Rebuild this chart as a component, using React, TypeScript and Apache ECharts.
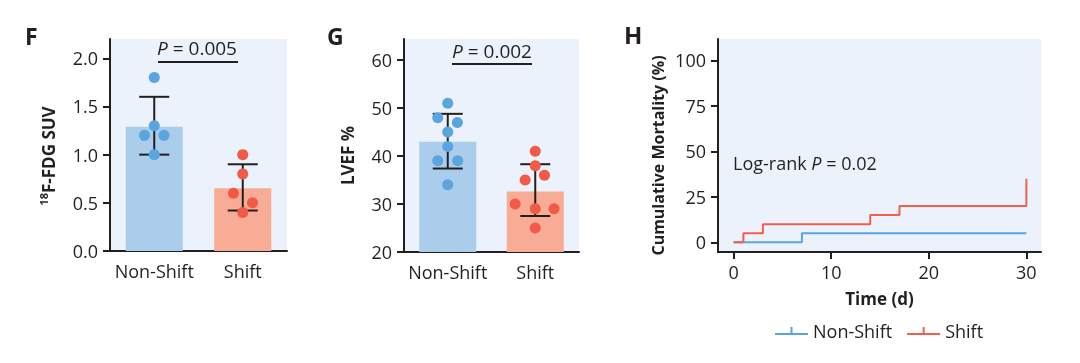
import React, { useEffect, useRef } from 'react';
import * as echarts from 'echarts';

// ---------- data ----------
const groups = ['Non-Shift', 'Shift'];

// Panel F: 18F-FDG SUV
const fdgMeans = [1.29, 0.65];
const fdgSdLow = [1.0, 0.42];
const fdgSdHigh = [1.6, 0.9];
const fdgNonShift = [1.8, 1.3, 1.2, 1.2, 1.0];
const fdgNonShiftJitter = [0, 0, -0.11, 0.11, 0];
const fdgShift = [1.0, 0.8, 0.6, 0.5, 0.4];
const fdgShiftJitter = [0, 0, -0.105, 0.11, 0];
const fdgTicks = [0, 0.5, 1, 1.5, 2];

// Panel G: LVEF %
const lvefMeans = [43, 32.6];
const lvefSdLow = [37.4, 27.5];
const lvefSdHigh = [48.8, 38.3];
const lvefNonShift = [51, 48, 47, 45, 42, 39, 39, 34];
const lvefNonShiftJitter = [0, -0.114, 0.11, 0, 0, -0.114, 0.114, 0];
const lvefShift = [41, 38, 35, 36, 30, 29, 29, 25];
const lvefShiftJitter = [0, 0, -0.115, 0.105, -0.23, 0, 0.215, 0];
const lvefTicks = [20, 30, 40, 50, 60];

// Panel H: cumulative mortality (Kaplan-Meier step)
const kmDaysNonShift = [0, 7, 30];
const kmMortNonShift = [0, 5, 5];
const kmDaysShift = [0, 1, 3, 14, 17, 30];
const kmMortShift = [0, 5, 10, 15, 20, 35];
const kmYTicks = [0, 25, 50, 75, 100];
const kmXTicks = [0, 10, 20, 30];

// ---------- styles ----------
const FONT = '"Open Sans", sans-serif';
const INK = '#231f20';
const BG = '#ebf2fb';
const BAR_BLUE = '#abcdec';
const BAR_RED = '#f8ab95';
const DOT_BLUE = '#5aa5de';
const DOT_RED = '#f05a46';
const LINE_BLUE = '#5ba5df';
const LINE_RED = '#f2604b';
const TICK_FS = 18;
const NAME_FS = 17;

const axisLine = { show: true, onZero: false, lineStyle: { color: INK, width: 2 } };
const axisTickStyle = { lineStyle: { color: INK, width: 2 }, length: 7 };
const labelStyle = { color: INK, fontSize: TICK_FS, fontFamily: FONT, fontWeight: 500 };

function errorBarSeries(xIdx: number, yIdx: number, lo: number[], hi: number[]) {
  return {
    type: 'custom',
    xAxisIndex: xIdx,
    yAxisIndex: yIdx,
    z: 3,
    encode: { x: 0, y: [1, 2] },
    data: groups.map((_, i) => [i, lo[i], hi[i]]),
    renderItem: (_p: any, api: any) => {
      const x = api.value(0);
      const pHi = api.coord([x, api.value(2)]);
      const pLo = api.coord([x, api.value(1)]);
      const w = 15;
      const style = { stroke: INK, lineWidth: 2 };
      return {
        type: 'group',
        children: [
          { type: 'line', shape: { x1: pHi[0], y1: pHi[1], x2: pLo[0], y2: pLo[1] }, style },
          { type: 'line', shape: { x1: pHi[0] - w, y1: pHi[1], x2: pHi[0] + w, y2: pHi[1] }, style },
          { type: 'line', shape: { x1: pLo[0] - w, y1: pLo[1], x2: pLo[0] + w, y2: pLo[1] }, style },
        ],
      };
    },
  };
}

function dotSeries(xIdx: number, yIdx: number, cat: number, vals: number[], jit: number[], color: string) {
  return {
    type: 'scatter',
    xAxisIndex: xIdx,
    yAxisIndex: yIdx,
    z: 4,
    symbolSize: 11,
    itemStyle: { color, opacity: 1 },
    data: vals.map((v, i) => [cat + jit[i], v]),
  };
}

function barSeries(xIdx: number, yIdx: number, means: number[]) {
  return {
    type: 'bar',
    xAxisIndex: xIdx,
    yAxisIndex: yIdx,
    barWidth: 57,
    z: 2,
    data: means.map((m, i) => ({ value: m, itemStyle: { color: i === 0 ? BAR_BLUE : BAR_RED } })),
  };
}

function catAxis(gridIndex: number) {
  return {
    type: 'category',
    gridIndex,
    data: groups,
    axisLine,
    axisTick: { ...axisTickStyle, alignWithLabel: true, interval: 0 },
    axisLabel: { ...labelStyle, margin: 11, interval: 0, hideOverlap: false },
  };
}

function hiddenValAxis(gridIndex: number) {
  return { type: 'value', gridIndex, min: -0.5, max: 1.5, show: false };
}

function pLabel(cx: number, cy: number, lineY: number, x1: number, x2: number, txt: string) {
  return [
    {
      type: 'text',
      x: cx,
      y: cy,
      style: {
        text: '{i|P}{n| = ' + txt + '}',
        align: 'center',
        verticalAlign: 'middle',
        rich: {
          i: { fontStyle: 'italic', fontSize: 19, fontWeight: 500, fontFamily: FONT, fill: INK, color: INK },
          n: { fontSize: 19, fontWeight: 500, fontFamily: FONT, fill: INK, color: INK },
        },
      },
    },
    {
      type: 'line',
      shape: { x1, y1: lineY, x2, y2: lineY },
      style: { stroke: INK, lineWidth: 2 },
    },
  ];
}

function panelTitle(x: number, y: number, t: string, size: number) {
  return {
    type: 'text',
    x,
    y,
    style: {
      text: t,
      fontSize: size,
      fontWeight: 'bold',
      fontFamily: FONT,
      fill: INK,
      verticalAlign: 'middle',
    },
  };
}

export default function App() {
  const ref = useRef<HTMLDivElement>(null);
  useEffect(() => {
    if (!ref.current) return;
    const chart = echarts.init(ref.current, null, { renderer: 'svg' });
    const option: any = {
      animation: false,
      textStyle: { fontFamily: FONT },
      grid: [
        { left: 110, top: 39, width: 177, height: 212, show: true, backgroundColor: BG, borderWidth: 0 },
        { left: 404, top: 39, width: 175, height: 213, show: true, backgroundColor: BG, borderWidth: 0 },
        { left: 718, top: 39, width: 323, height: 213, show: true, backgroundColor: BG, borderWidth: 0 },
      ],
      xAxis: [
        catAxis(0),
        hiddenValAxis(0),
        catAxis(1),
        hiddenValAxis(1),
        {
          type: 'value',
          gridIndex: 2,
          min: -1.6,
          max: 31.5,
          axisLine,
          axisTick: { ...axisTickStyle, customValues: kmXTicks },
          axisLabel: { ...labelStyle, margin: 11, customValues: kmXTicks },
          splitLine: { show: false },
          name: 'Time (d)',
          nameLocation: 'middle',
          nameGap: 38,
          nameTextStyle: { color: INK, fontSize: NAME_FS, fontWeight: 'bold', fontFamily: FONT },
        },
      ],
      yAxis: [
        {
          type: 'value',
          gridIndex: 0,
          min: 0,
          max: 2.2,
          axisLine,
          axisTick: { ...axisTickStyle, customValues: fdgTicks },
          axisLabel: { ...labelStyle, margin: 12, customValues: fdgTicks, formatter: (v: number) => v.toFixed(1) },
          splitLine: { show: false },
          name: '{sup|18}{b|F-FDG SUV}',
          nameLocation: 'middle',
          nameRotate: 90,
          nameGap: 52,
          nameTextStyle: {
            color: INK,
            fontSize: NAME_FS,
            fontWeight: 'bold',
            fontFamily: FONT,
            padding: [0, 22, 0, 0],
            rich: {
              sup: { fontSize: 11, fontWeight: 'bold', fontFamily: FONT, color: INK, verticalAlign: 'top', lineHeight: 20 },
              b: { fontSize: NAME_FS, fontWeight: 'bold', fontFamily: FONT, color: INK, lineHeight: 20 },
            },
          },
        },
        {
          type: 'value',
          gridIndex: 1,
          min: 20,
          max: 64.4,
          axisLine,
          axisTick: { ...axisTickStyle, customValues: lvefTicks },
          axisLabel: { ...labelStyle, margin: 12, customValues: lvefTicks },
          splitLine: { show: false },
          name: 'LVEF %',
          nameLocation: 'middle',
          nameRotate: 90,
          nameGap: 48,
          nameTextStyle: { color: INK, fontSize: NAME_FS, fontWeight: 'bold', fontFamily: FONT, padding: [0, 20, 0, 0] },
        },
        {
          type: 'value',
          gridIndex: 2,
          min: -5.3,
          max: 111.7,
          axisLine,
          axisTick: { ...axisTickStyle, customValues: kmYTicks },
          axisLabel: { ...labelStyle, margin: 12, customValues: kmYTicks },
          splitLine: { show: false },
          name: 'Cumulative Mortality (%)',
          nameLocation: 'middle',
          nameRotate: 90,
          nameGap: 52,
          nameTextStyle: { color: INK, fontSize: 16, fontWeight: 'bold', fontFamily: FONT, padding: [0, 20, 0, 0] },
        },
      ],
      legend: {
        left: 770,
        top: 317,
        itemWidth: 33,
        itemHeight: 10,
        itemGap: 15,
        icon: 'path://M0,8h33v2H0z M15.5,2h2v6h-2z',
        textStyle: { color: INK, fontSize: 18, fontWeight: 500, fontFamily: FONT },
        data: ['Non-Shift', 'Shift'],
      },
      series: [
        barSeries(0, 0, fdgMeans),
        errorBarSeries(1, 0, fdgSdLow, fdgSdHigh),
        dotSeries(1, 0, 0, fdgNonShift, fdgNonShiftJitter, DOT_BLUE),
        dotSeries(1, 0, 1, fdgShift, fdgShiftJitter, DOT_RED),
        barSeries(2, 1, lvefMeans),
        errorBarSeries(3, 1, lvefSdLow, lvefSdHigh),
        dotSeries(3, 1, 0, lvefNonShift, lvefNonShiftJitter, DOT_BLUE),
        dotSeries(3, 1, 1, lvefShift, lvefShiftJitter, DOT_RED),
        {
          name: 'Non-Shift',
          type: 'line',
          xAxisIndex: 4,
          yAxisIndex: 2,
          step: 'end',
          showSymbol: false,
          symbol: 'none',
          color: LINE_BLUE,
          lineStyle: { color: LINE_BLUE, width: 2 },
          z: 3,
          data: kmDaysNonShift.map((d, i) => [d, kmMortNonShift[i]]),
        },
        {
          name: 'Shift',
          type: 'line',
          xAxisIndex: 4,
          yAxisIndex: 2,
          step: 'end',
          showSymbol: false,
          symbol: 'none',
          color: LINE_RED,
          lineStyle: { color: LINE_RED, width: 2 },
          z: 4,
          data: kmDaysShift.map((d, i) => [d, kmMortShift[i]]),
        },
      ],
      graphic: [
        panelTitle(25, 36, 'F', 23),
        panelTitle(327, 36, 'G', 23),
        panelTitle(624, 34, 'H', 24),
        ...pLabel(197, 48, 62, 158, 238, '0.005'),
        ...pLabel(492, 51, 64, 452, 532, '0.002'),
        {
          type: 'text',
          x: 733,
          y: 163,
          style: {
            text: '{n|Log-rank }{i|P}{n| = 0.02}',
            verticalAlign: 'middle',
            rich: {
              i: { fontStyle: 'italic', fontSize: 18, fontWeight: 500, fontFamily: FONT, fill: INK, color: INK },
              n: { fontSize: 18, fontWeight: 500, fontFamily: FONT, fill: INK, color: INK },
            },
          },
        },
      ],
    };
    chart.setOption(option);
    return () => chart.dispose();
  }, []);
  return <div ref={ref} style={{ position: 'fixed', left: 0, top: 0, width: 1080, height: 363 }} />;
}
